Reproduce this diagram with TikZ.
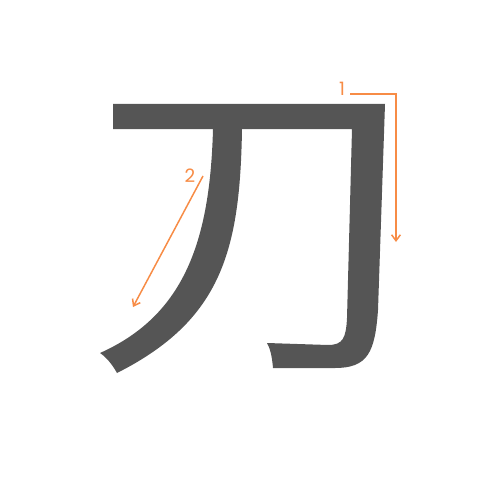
\documentclass[tikz,border=0pt]{standalone}
\usepackage{fontspec}
\setmainfont{Poppins}
\usepackage{xcolor}
\usepackage{tikz}
\usetikzlibrary{arrows.meta}
\definecolor{inkgray}{RGB}{85,85,85}
\definecolor{orderorange}{RGB}{247,140,70}
\tikzset{
  glyph/.style={fill=inkgray,draw=none},
  orderline/.style={draw=orderorange,line width=0.85pt,-{Straight Barb[length=3.4pt,width=5pt]}},
  ordernum/.style={text=orderorange,font=\fontsize{10.5}{12}\selectfont,inner sep=0pt}
}
\begin{document}
\begin{tikzpicture}[x=0.02cm,y=-0.02cm]
            \useasboundingbox (0,0) rectangle (500,500);
            % stroke 1
            \filldraw[glyph] (113,104) -- (385,104) -- (378,310)
            .. controls (375,352) and (368,368) .. (335,368) -- (273,368)
            .. controls (272,356) and (270,348) .. (267,343) -- (328,345)
            .. controls (343,345) and (346,338) .. (347,318)
            -- (352,129) -- (113,129) -- cycle;
            % stroke 2
            \filldraw[glyph] (213,129) -- (242,129)
            .. controls (240,250) and (222,320) .. (117,373)
            .. controls (112,364) and (106,357) .. (100,353)
            .. controls (185,315) and (210,240) .. (213,129) -- cycle;
            % order marks
            \node[ordernum] (num1) at (342,89) {1};
            \coordinate (start1) at (350,94);
            \coordinate (end1) at (396,242);
            \draw[orderline] (start1) -| (end1);
            \node[ordernum] (num2) at (190,176) {2};
            \coordinate (start2) at (203,176);
            \coordinate (end2) at (133,307);
            \draw[orderline] (start2) -- (end2);
        \end{tikzpicture}
\end{document}
